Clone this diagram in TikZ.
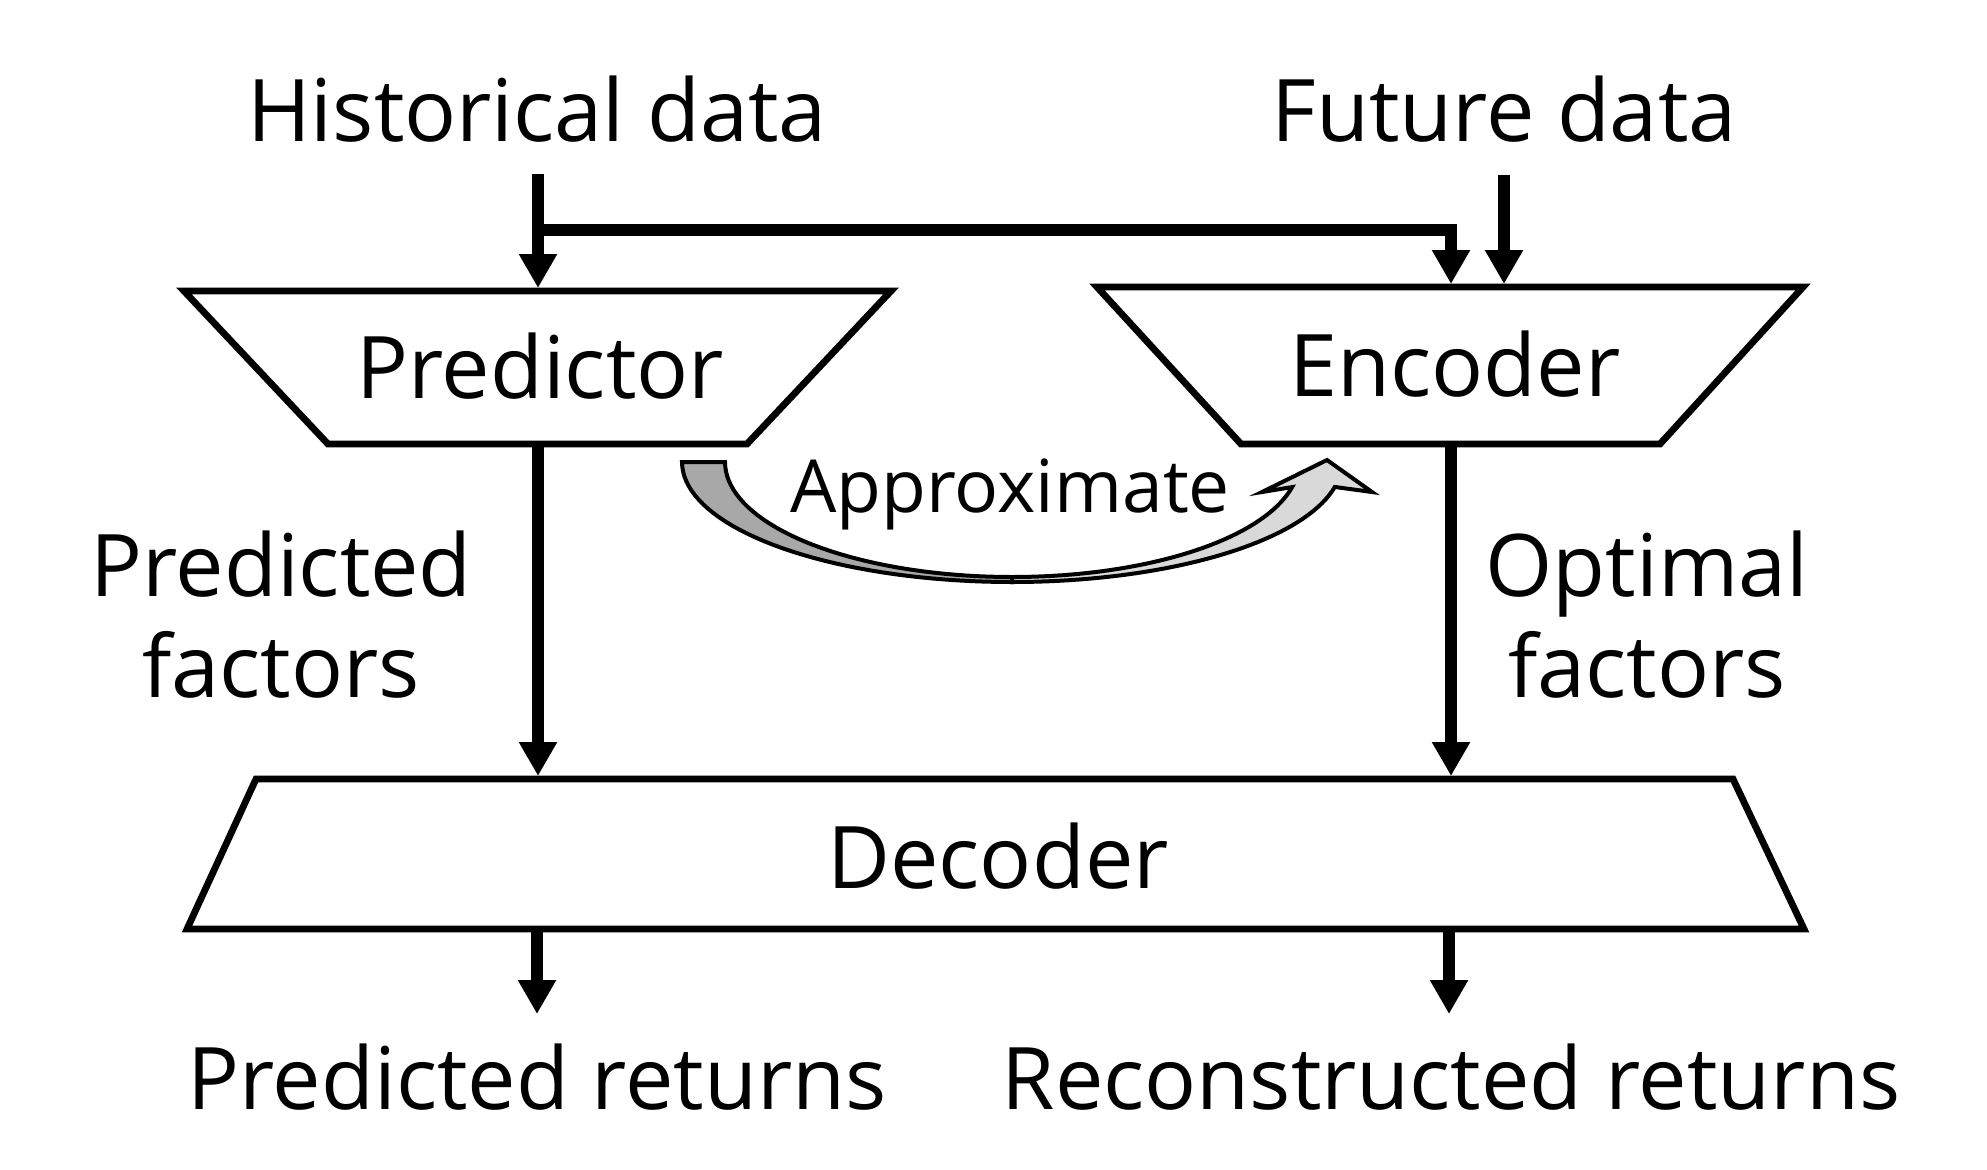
\documentclass[tikz,border=0pt]{standalone}
\usepackage{fontspec}
\setmainfont{Open Sans}
\usetikzlibrary{arrows.meta}
\definecolor{backgray}{HTML}{A8A8A8}
\definecolor{frontgray}{HTML}{D9D9D9}
\begin{document}
\begin{tikzpicture}[x=0.25pt,y=-0.25pt,
  box/.style={draw=black,line width=1.7pt,fill=white,line join=miter},
  flow/.style={line width=3pt,line join=miter,-{Triangle[width=9pt,length=8.5pt]}},
  lbl/.style={font=\fontsize{21.6}{26}\selectfont,anchor=base,inner sep=0pt},
  small/.style={font=\fontsize{18.3}{22}\selectfont,anchor=base,inner sep=0pt},
  curved/.style={draw=black,line width=1pt,line join=miter},
  ]
\useasboundingbox (0,0) rectangle (1987,1169);
% boxes
\draw[box] (184,291) -- (891,291) -- (747,444) -- (328,444) -- cycle;
\draw[box] (1097,287) -- (1803,287) -- (1660,444) -- (1241,444) -- cycle;
\draw[box] (256,779) -- (1733,779) -- (1804,929) -- (187,929) -- cycle;
% text nodes
\node[lbl] (hist) at (537,141) {Historical data};
\node[lbl] (fut) at (1504,141) {Future data};
\node[lbl] (pred) at (540,398) {Predictor};
\node[lbl] (enc) at (1455,396) {Encoder};
\node[lbl] (dec) at (998,888) {Decoder};
\node[lbl] (pf1) at (281,596) {Predicted};
\node[lbl] (pf2) at (281,697) {factors};
\node[lbl] (of1) at (1647,596) {Optimal};
\node[lbl] (of2) at (1647,697) {factors};
\node[lbl] (pr) at (537,1109) {Predicted returns};
\node[lbl] (rr) at (1451,1109) {Reconstructed returns};
\node[small] (apx) at (1010,512) {Approximate};
% connector coordinates
\coordinate (hs) at (538,174);
\coordinate (pin) at (538,288);
\coordinate (br) at (538,230);
\coordinate (bc) at (1451,230);
\coordinate (ein1) at (1451,284);
\coordinate (fs) at (1504,175);
\coordinate (ein2) at (1504,284);
\coordinate (pout) at (538,444);
\coordinate (din1) at (538,776);
\coordinate (eout) at (1451,444);
\coordinate (din2) at (1451,776);
\coordinate (dout1) at (537,929);
\coordinate (pr1) at (537,1014);
\coordinate (dout2) at (1449,929);
\coordinate (rr1) at (1449,1014);
% connectors
\draw[flow] (hs) -- (pin);
\draw[flow] (br) -- (bc) -- (ein1);
\draw[flow] (fs) -- (ein2);
\draw[flow] (pout) -- (din1);
\draw[flow] (eout) -- (din2);
\draw[flow] (dout1) -- (pr1);
\draw[flow] (dout2) -- (rr1);
% curved approximate arrow
\draw[curved,fill=frontgray] plot[domain=90:12,samples=40] ({1012+330*cos(\x)},{462+120*sin(\x)})
  -- (1372,492) -- (1327,460) -- (1262,492)
  -- plot[domain=12.6:90,samples=40] ({1012+287*cos(\x)},{462+115*sin(\x)}) -- cycle;
\draw[curved,fill=backgray] (682,462) -- plot[domain=180:90,samples=40] ({1012+330*cos(\x)},{462+120*sin(\x)})
  -- plot[domain=90:180,samples=40] ({1012+287*cos(\x)},{462+115*sin(\x)}) -- cycle;
\end{tikzpicture}
\end{document}
